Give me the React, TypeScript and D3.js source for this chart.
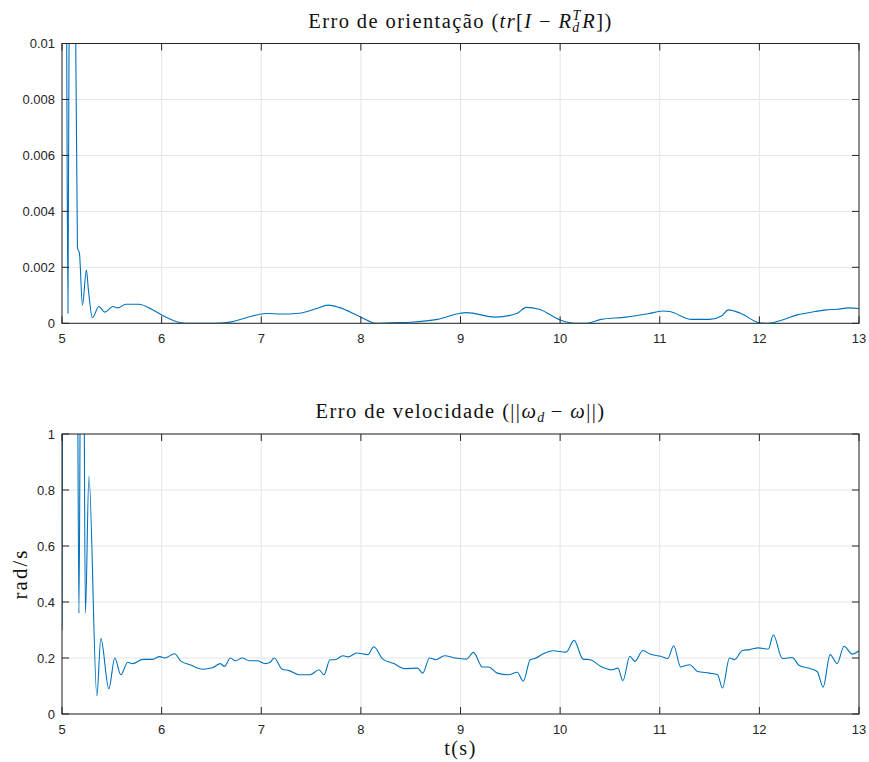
import React from "react";
import * as d3 from "d3";

// ---- Data ----
const xTicks = [5, 6, 7, 8, 9, 10, 11, 12, 13];
const topYTicks = [0, 0.002, 0.004, 0.006, 0.008, 0.01];
const topYTickLabels = ["0", "0.002", "0.004", "0.006", "0.008", "0.01"];
const botYTicks = [0, 0.2, 0.4, 0.6, 0.8, 1];
const botYTickLabels = ["0", "0.2", "0.4", "0.6", "0.8", "1"];

const orientT = [5.0, 5.045, 5.06, 5.08, 5.11, 5.135, 5.155, 5.175, 5.205, 5.245, 5.265, 5.305, 5.37, 5.43, 5.51, 5.56, 5.64, 5.77, 5.9, 6.0, 6.18, 6.3, 6.45, 6.6, 6.7, 6.85, 7.05, 7.2, 7.38, 7.55, 7.67, 7.78, 8.0, 8.15, 8.3, 8.5, 8.77, 9.0, 9.06, 9.35, 9.57, 9.66, 9.79, 10.0, 10.15, 10.26, 10.41, 10.66, 10.88, 11.03, 11.1, 11.32, 11.5, 11.62, 11.69, 11.81, 12.0, 12.09, 12.23, 12.38, 12.56, 12.67, 12.78, 12.9, 13.0];
const orientErr = [0.05, 0.012, 0.00036, 0.02, 0.03, 0.012, 0.0027, 0.0025, 0.00065, 0.0019, 0.0012, 0.0002, 0.0006, 0.0004, 0.0006, 0.00055, 0.00068, 0.00068, 0.0005, 0.0003, 0.00003, 0.0, 0.0, 0.00001, 0.00005, 0.0002, 0.00035, 0.00033, 0.00036, 0.00052, 0.00065, 0.00057, 0.00022, 0.0, 0.00002, 0.00004, 0.00014, 0.00036, 0.00038, 0.00022, 0.00036, 0.00057, 0.0005, 0.00012, 0.0, 0.0, 0.00014, 0.00022, 0.00034, 0.00044, 0.00042, 0.00014, 0.00014, 0.00026, 0.00048, 0.00036, 0.00002, 0.0, 0.00012, 0.0003, 0.00042, 0.00048, 0.0005, 0.00055, 0.00053];

const velT = [5.0, 5.01, 5.15, 5.17, 5.19, 5.215, 5.235, 5.27, 5.35, 5.39, 5.47, 5.53, 5.59, 5.66, 5.71, 5.81, 5.91, 5.98, 6.03, 6.13, 6.19, 6.29, 6.41, 6.51, 6.59, 6.63, 6.69, 6.74, 6.81, 6.88, 6.96, 7.04, 7.09, 7.13, 7.21, 7.28, 7.38, 7.49, 7.58, 7.63, 7.69, 7.74, 7.82, 7.87, 7.96, 8.07, 8.13, 8.22, 8.33, 8.44, 8.57, 8.62, 8.69, 8.75, 8.84, 8.95, 9.06, 9.13, 9.22, 9.28, 9.37, 9.48, 9.57, 9.63, 9.7, 9.76, 9.83, 9.93, 10.06, 10.14, 10.23, 10.3, 10.41, 10.52, 10.58, 10.63, 10.7, 10.75, 10.83, 10.9, 11.01, 11.08, 11.14, 11.21, 11.3, 11.38, 11.5, 11.58, 11.63, 11.7, 11.75, 11.83, 11.9, 11.99, 12.09, 12.14, 12.23, 12.33, 12.4, 12.49, 12.58, 12.64, 12.71, 12.78, 12.85, 12.93, 13.0];
const velErr = [0.3, 1.6, 1.6, 0.36, 1.5, 1.5, 0.36, 0.85, 0.065, 0.27, 0.09, 0.2, 0.14, 0.185, 0.18, 0.195, 0.195, 0.205, 0.2, 0.215, 0.19, 0.175, 0.16, 0.165, 0.18, 0.17, 0.2, 0.19, 0.2, 0.19, 0.19, 0.18, 0.185, 0.2, 0.16, 0.155, 0.14, 0.14, 0.158, 0.14, 0.194, 0.194, 0.208, 0.204, 0.218, 0.212, 0.24, 0.196, 0.18, 0.162, 0.164, 0.146, 0.2, 0.194, 0.208, 0.2, 0.196, 0.22, 0.168, 0.168, 0.146, 0.14, 0.149, 0.117, 0.194, 0.2, 0.215, 0.226, 0.221, 0.263, 0.196, 0.194, 0.17, 0.158, 0.164, 0.119, 0.206, 0.188, 0.227, 0.214, 0.206, 0.198, 0.244, 0.168, 0.176, 0.152, 0.146, 0.14, 0.093, 0.2, 0.194, 0.227, 0.23, 0.236, 0.232, 0.283, 0.198, 0.202, 0.173, 0.164, 0.152, 0.096, 0.212, 0.18, 0.242, 0.214, 0.226];

// ---- Layout ----
const W = 869;
const H = 762;
const LEFT = 62;
const RIGHT = 859;
const AX_COLOR = "#262626";
const GRID = "#e5e5e5";
const LINE = "#0072BD";
const TICK = 7;
const SANS = "'Liberation Sans', Arial, Helvetica, sans-serif";
const SERIF = "'Liberation Serif', 'Times New Roman', serif";
const TFS = 20.5;
const LS = 1.4;

type PanelProps = {
  id: string;
  top: number;
  bottom: number;
  yDomain: [number, number];
  yTicks: number[];
  yLabels: string[];
  xs: number[];
  ys: number[];
};

function Panel({ id, top, bottom, yDomain, yTicks, yLabels, xs, ys }: PanelProps) {
  const x = d3.scaleLinear().domain([5, 13]).range([LEFT, RIGHT]);
  const y = d3.scaleLinear().domain(yDomain).range([bottom, top]);
  const pts: [number, number][] = xs.map((t, i) => [t, ys[i]]);
  const line = d3
    .line<[number, number]>()
    .x((d) => x(d[0]))
    .y((d) => y(d[1]))
    .curve(d3.curveMonotoneX);
  return (
    <g>
      <defs>
        <clipPath id={id}>
          <rect x={LEFT} y={top} width={RIGHT - LEFT} height={bottom - top} />
        </clipPath>
      </defs>
      <rect x={LEFT} y={top} width={RIGHT - LEFT} height={bottom - top} fill="#fff" />
      {xTicks.map((t) => (
        <line key={"gx" + t} x1={x(t)} x2={x(t)} y1={top} y2={bottom} stroke={GRID} strokeWidth={1} />
      ))}
      {yTicks.map((v) => (
        <line key={"gy" + v} x1={LEFT} x2={RIGHT} y1={y(v)} y2={y(v)} stroke={GRID} strokeWidth={1} />
      ))}
      <path d={line(pts) || ""} fill="none" stroke={LINE} strokeWidth={1.1} clipPath={`url(#${id})`} />
      <rect x={LEFT} y={top} width={RIGHT - LEFT} height={bottom - top} fill="none" stroke={AX_COLOR} strokeWidth={1} />
      {xTicks.map((t) => (
        <g key={"tx" + t}>
          <line x1={x(t)} x2={x(t)} y1={bottom} y2={bottom - TICK} stroke={AX_COLOR} />
          <line x1={x(t)} x2={x(t)} y1={top} y2={top + TICK} stroke={AX_COLOR} />
          <text x={x(t)} y={bottom + 19.5} textAnchor="middle" fontFamily={SANS} fontSize={13} fill={AX_COLOR}>
            {String(t)}
          </text>
        </g>
      ))}
      {yTicks.map((v, i) => (
        <g key={"ty" + v}>
          <line x1={LEFT} x2={LEFT + TICK} y1={y(v)} y2={y(v)} stroke={AX_COLOR} />
          <line x1={RIGHT} x2={RIGHT - TICK} y1={y(v)} y2={y(v)} stroke={AX_COLOR} />
          <text x={LEFT - 7} y={y(v) + 4.5} textAnchor="end" fontFamily={SANS} fontSize={13} fill={AX_COLOR}>
            {yLabels[i]}
          </text>
        </g>
      ))}
    </g>
  );
}

export default function App() {
  const cx = (LEFT + RIGHT) / 2;
  return (
    <svg width={W} height={H} style={{ position: "absolute", left: 0, top: 0, background: "#fff" }}>
      <rect x={0} y={0} width={W} height={H} fill="#fff" />
      <Panel id="c1" top={43.5} bottom={323.3} yDomain={[0, 0.01]} yTicks={topYTicks} yLabels={topYTickLabels} xs={orientT} ys={orientErr} />
      <Panel id="c2" top={434} bottom={714} yDomain={[0, 1]} yTicks={botYTicks} yLabels={botYTickLabels} xs={velT} ys={velErr} />
      <text x={cx} y={28} textAnchor="middle" fontFamily={SERIF} fontSize={TFS} letterSpacing={LS} fill="#111">
        {"Erro de orientação ("}
        <tspan fontStyle="italic">tr</tspan>
        {"["}
        <tspan fontStyle="italic">I</tspan>
        {" − "}
        <tspan fontStyle="italic">R</tspan>
        <tspan fontStyle="italic" fontSize={14} letterSpacing={0} dy={-8}>T</tspan>
        <tspan fontStyle="italic" fontSize={14} letterSpacing={0} dx={-8} dy={12}>d</tspan>
        <tspan fontStyle="italic" dx={3} dy={-4}>R</tspan>
        {"])"}
      </text>
      <text x={cx} y={418} textAnchor="middle" fontFamily={SERIF} fontSize={TFS} letterSpacing={LS} fill="#111">
        {"Erro de velocidade (||"}
        <tspan fontStyle="italic">ω</tspan>
        <tspan fontStyle="italic" fontSize={14} letterSpacing={0} dy={4}>d</tspan>
        <tspan dy={-4}>{" − "}</tspan>
        <tspan fontStyle="italic">ω</tspan>
        {"||)"}
      </text>
      <text transform={`translate(27,574) rotate(-90)`} textAnchor="middle" fontFamily={SERIF} fontSize={21} letterSpacing={2} fill="#111">
        rad/s
      </text>
      <text x={cx} y={755} textAnchor="middle" fontFamily={SERIF} fontSize={20} letterSpacing={1.5} fill="#111">
        t(s)
      </text>
    </svg>
  );
}
